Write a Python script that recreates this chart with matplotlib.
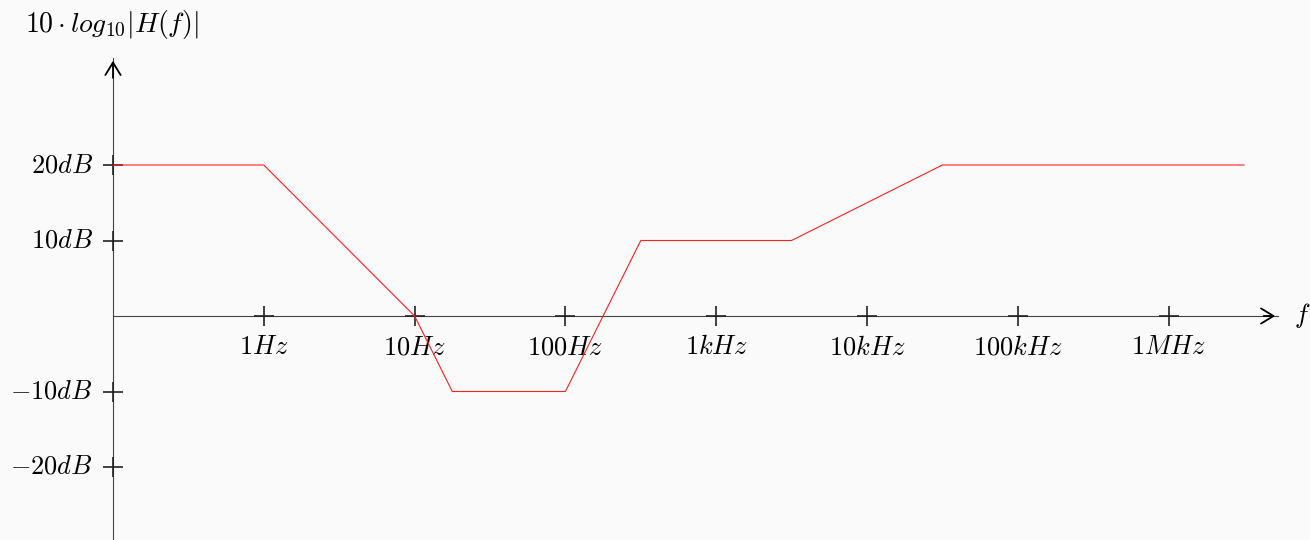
import numpy as np
import matplotlib.pyplot as plt

plt.rcParams['mathtext.fontset'] = 'cm'

# Bode asymptote corners: (frequency in Hz, gain in dB)
freq_hz = [0.1, 1, 10, 10**1.25, 100, 10**2.5, 10**3.5, 10**4.5, 10**6.5]
gain_db = [20, 20, 0, -10, -10, 10, 10, 20, 20]

xtick_freqs = [1, 10, 100, 1e3, 1e4, 1e5, 1e6]
xtick_labels = ['$1Hz$', '$10Hz$', '$100Hz$', '$1kHz$', '$10kHz$', '$100kHz$', '$1MHz$']
ytick_vals = [20, 10, -10, -20]
ytick_labels = ['$20dB$', '$10dB$', '$-10dB$', '$-20dB$']

BG = '#fafafa'
AX = '#222222'

fig = plt.figure(figsize=(13.1, 5.4), dpi=100, facecolor=BG)
ax = fig.add_axes([0, 0, 1, 1], facecolor=BG)
ax.set_xscale('log')

# pixel mapping: origin (0.1 Hz, 0 dB) at px (113, 316), 150.8 px/decade, 7.55 px/dB
px_dec = 150.8
px_db = 7.55
ax.set_xlim(10**(-1 - 113 / px_dec), 10**(-1 + 1197 / px_dec))
ax.set_ylim(-224 / px_db, 316 / px_db)
ax.axis('off')

# axes with arrows
x_end = 10**(-1 + 1165 / px_dec)
y_end = 258 / px_db
ax.plot([0.1, x_end], [0, 0], color='#444444', lw=0.8, zorder=1)
ax.plot([0.1, 0.1], [-40, y_end], color='#444444', lw=0.8, zorder=1)
ax.annotate('', xy=(x_end, 0), xytext=(x_end / 1.3, 0),
            arrowprops=dict(arrowstyle='->,head_length=0.9,head_width=0.55', color='black', lw=1.3))
ax.annotate('', xy=(0.1, y_end), xytext=(0.1, y_end - 3),
            arrowprops=dict(arrowstyle='->,head_length=0.9,head_width=0.55', color='black', lw=1.3))

# tick crosses
ax.plot(xtick_freqs, [0] * len(xtick_freqs), '+', color=AX, ms=14, mew=1.2, zorder=2)
ax.plot([0.1] * len(ytick_vals), ytick_vals, '+', color=AX, ms=14, mew=1.2, zorder=2)

for f, lab in zip(xtick_freqs, xtick_labels):
    ax.text(f, -2.4, lab, ha='center', va='top', fontsize=19)
for v, lab in zip(ytick_vals, ytick_labels):
    ax.text(10**(-1 - 20 / px_dec), v, lab, ha='right', va='center', fontsize=19)

ax.text(10**(-1 + 1181 / px_dec), 0, '$f$', ha='left', va='center', fontsize=19)
ax.text(10**(-1 - 88 / px_dec), 292 / px_db, r'$10\cdot log_{10}|H(f)|$',
        ha='left', va='center', fontsize=20)

# response curve
ax.plot(freq_hz, gain_db, color='#ff2020', lw=0.8, zorder=3)

fig.savefig('out.png', dpi=100, facecolor=BG)
